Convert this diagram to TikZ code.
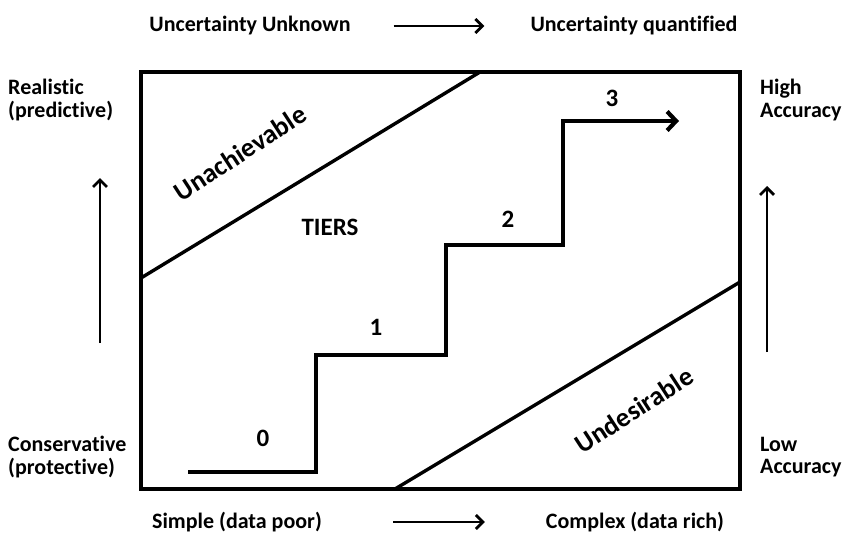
\documentclass[tikz,border=0pt]{standalone}
\usepackage{fontspec}
\setmainfont{Carlito}[Ligatures=NoCommon]
\usetikzlibrary{arrows.meta}

\begin{document}
\begin{tikzpicture}[x=1pt, y=-1pt,
    lbl/.style={font=\fontsize{22}{22.5}\selectfont\bfseries, inner sep=0pt},
    big/.style={font=\fontsize{25}{26}\selectfont\bfseries, inner sep=0pt},
    slant/.style={font=\fontsize{27}{28}\selectfont\bfseries, inner sep=0pt, rotate=33},
    side/.style={lbl, align=left, anchor=west},
    border/.style={line width=3.4pt},
    stair/.style={line width=4.2pt, -{Straight Barb[length=9pt,width=19pt]}},
    flow/.style={line width=2.8pt, -{Straight Barb[length=7pt,width=14pt]}}]
\useasboundingbox (0,0) rectangle (843,535);
% frame and the two diagonals
\draw[border] (141,72) rectangle (740,489);
\draw[border] (141,278) -- (480,72);
\draw[border] (395,489) -- (740,282);
% axis texts
\node[lbl] (unknown) at (250,26) {Uncertainty Unknown};
\node[lbl] (quantified) at (634,26) {Uncertainty quantified};
\draw[flow, shorten <=43pt, shorten >=46pt] (unknown) -- (quantified);
\node[lbl] (simple) at (237,522) {Simple (data poor)};
\node[lbl] (complex) at (635,522) {Complex (data rich)};
\draw[flow, shorten <=71pt, shorten >=61pt] (simple) -- (complex);
\node[side] (realistic) at (8,100) {Realistic\\(predictive)};
\node[side] (conservative) at (8,457) {Conservative\\(protective)};
\node[side] (high) at (760,100) {High\\Accuracy};
\node[side] (low) at (760,457) {Low\\Accuracy};
\coordinate (lfoot) at (100,343);
\coordinate (ltop) at (100,178);
\draw[flow] (lfoot) -- (ltop);
\coordinate (rfoot) at (767,352);
\coordinate (rtop) at (767,186);
\draw[flow] (rfoot) -- (rtop);
% the stairs
\draw[stair] (188,472) -| (316,355) -| (446,245) -| (563,121) -- (679,121);
\foreach \n/\x/\y in {0/263/438, 1/376/327, 2/508/219, 3/612/98}
    \node[big] (tier\n) at (\x,\y) {\n};
\node[big] (tiers) at (330,227) {TIERS};
\node[slant] (unach) at (240,153) {Unachievable};
\node[slant] (undes) at (634,410) {Undesirable};
\end{tikzpicture}
\end{document}
